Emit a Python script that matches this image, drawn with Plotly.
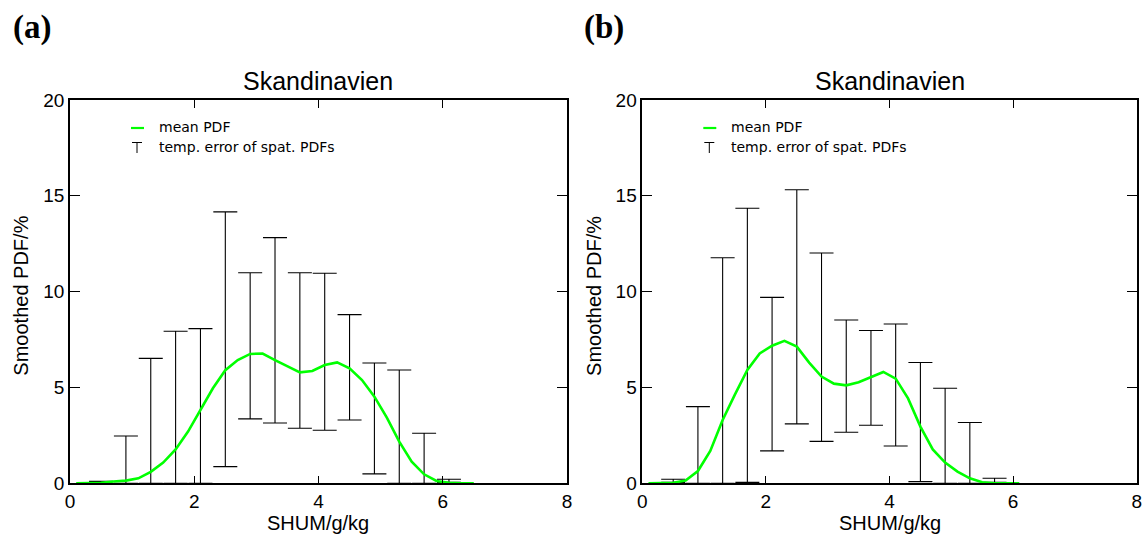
import plotly.graph_objects as go

# ---------------- data ----------------
curve_x_a = [0.1, 0.3, 0.5, 0.7, 0.9, 1.1, 1.3, 1.5, 1.7, 1.9, 2.1, 2.3, 2.5, 2.7, 2.9, 3.1,
             3.3, 3.5, 3.7, 3.9, 4.1, 4.3, 4.5, 4.7, 4.9, 5.1, 5.3, 5.5, 5.7, 5.9, 6.1, 6.3, 6.5]
curve_y_a = [0.0, 0.0, 0.03, 0.09, 0.14, 0.26, 0.6, 1.08, 1.77, 2.7, 3.83, 4.96, 5.9, 6.43, 6.75, 6.77,
             6.43, 6.09, 5.79, 5.86, 6.17, 6.31, 6.0, 5.39, 4.52, 3.43, 2.17, 1.13, 0.47, 0.12, 0.03, 0.0, 0.0]

err_x_a = [0.5, 0.9, 1.3, 1.7, 2.1, 2.5, 2.9, 3.3, 3.7, 4.1, 4.5, 4.9, 5.3, 5.7, 6.1]
err_hi_a = [0.1, 2.47, 6.52, 7.93, 8.07, 14.16, 10.99, 12.82, 10.99, 10.96, 8.8, 6.28, 5.91, 2.61, 0.21]
err_lo_a = [0.0, 0.0, 0.0, 0.0, 0.0, 0.87, 3.36, 3.15, 2.87, 2.77, 3.3, 0.49, 0.0, 0.0, 0.05]

curve_x_b = [0.1, 0.3, 0.5, 0.7, 0.9, 1.1, 1.3, 1.5, 1.7, 1.9, 2.1, 2.3, 2.5, 2.7, 2.9, 3.1,
             3.3, 3.5, 3.7, 3.9, 4.1, 4.3, 4.5, 4.7, 4.9, 5.1, 5.3, 5.5, 5.7, 5.9, 6.1]
curve_y_b = [0.0, 0.0, 0.03, 0.14, 0.64, 1.69, 3.3, 4.64, 5.91, 6.78, 7.18, 7.43, 7.13, 6.3, 5.57, 5.2,
             5.11, 5.27, 5.53, 5.81, 5.46, 4.43, 2.96, 1.77, 1.08, 0.61, 0.26, 0.05, 0.0, 0.0, 0.0]

err_x_b = [0.5, 0.9, 1.3, 1.7, 2.1, 2.5, 2.9, 3.3, 3.7, 4.1, 4.5, 4.9, 5.3, 5.7]
err_hi_b = [0.21, 4.0, 11.77, 14.35, 9.7, 15.32, 12.02, 8.52, 7.97, 8.31, 6.3, 4.96, 3.17, 0.26]
err_lo_b = [0.05, 0.0, 0.0, 0.05, 1.69, 3.1, 2.19, 2.66, 3.03, 1.95, 0.09, 0.0, 0.0, 0.05]

x_ticks = [0, 2, 4, 6, 8]
y_ticks = [0, 5, 10, 15, 20]
panel_labels = ["(a)", "(b)"]
title_text = "Skandinavien"
x_title = "SHUM/g/kg"
y_title = "Smoothed PDF/%"
legend_texts = ["mean PDF", "temp. error of spat. PDFs"]

# ---------------- figure ----------------
W, H = 1144, 535
GREEN = "#00ff00"
FONT = "Liberation Sans, Arial, sans-serif"

fig = go.Figure()

panels = [
    dict(xa="x", ya="y", ex=err_x_a, hi=err_hi_a, lo=err_lo_a, cx=curve_x_a, cy=curve_y_a),
    dict(xa="x2", ya="y2", ex=err_x_b, hi=err_hi_b, lo=err_lo_b, cx=curve_x_b, cy=curve_y_b),
]

for p in panels:
    mid = [(h + l) / 2 for h, l in zip(p["hi"], p["lo"])]
    half = [(h - l) / 2 for h, l in zip(p["hi"], p["lo"])]
    fig.add_trace(go.Scatter(
        x=p["ex"], y=mid, mode="markers",
        marker=dict(size=1, color="rgba(0,0,0,0)"),
        error_y=dict(type="data", array=half, symmetric=True, color="black",
                     thickness=1.1, width=12),
        xaxis=p["xa"], yaxis=p["ya"], showlegend=False, hoverinfo="skip"))
    fig.add_trace(go.Scatter(
        x=p["cx"], y=p["cy"], mode="lines",
        line=dict(color=GREEN, width=2.6),
        xaxis=p["xa"], yaxis=p["ya"], showlegend=False))

# plot-area geometry (pixels)
xa_px = (70, 567)
xb_px = (642.3, 1136.7)
y_top, y_bot = 100, 483.3

def px(xp):
    return xp / W

def py(yp):
    return 1 - yp / H

axis_common = dict(showline=True, linecolor="black", linewidth=1.5, mirror="ticks",
                   ticks="inside", tickcolor="black", tickwidth=1.3, showgrid=False,
                   zeroline=False, automargin=False,
                   tickfont=dict(family=FONT, size=19, color="black"))

fig.update_layout(
    template="none",
    width=W, height=H, margin=dict(l=0, r=0, t=0, b=0, autoexpand=False),
    paper_bgcolor="white", plot_bgcolor="white", showlegend=False,
    xaxis=dict(domain=[px(xa_px[0]), px(xa_px[1])], range=[0, 8], tickvals=x_ticks,
               ticklen=8, anchor="y", **axis_common),
    yaxis=dict(domain=[py(y_bot), py(y_top)], range=[0, 20], tickvals=y_ticks,
               ticklen=10, anchor="x", **axis_common),
    xaxis2=dict(domain=[px(xb_px[0]), px(xb_px[1])], range=[0, 8], tickvals=x_ticks,
                ticklen=8, anchor="y2", **axis_common),
    yaxis2=dict(domain=[py(y_bot), py(y_top)], range=[0, 20], tickvals=y_ticks,
                ticklen=10, anchor="x2", **axis_common),
)

annotations = []
shapes = []
for i, (x0, x1) in enumerate([xa_px, xb_px]):
    cx = (x0 + x1) / 2
    # panel label
    annotations.append(dict(text="<b>%s</b>" % panel_labels[i], xref="paper", yref="paper",
                            x=px(x0 - 38), y=py(27), xanchor="center", yanchor="middle",
                            showarrow=False,
                            font=dict(family="Liberation Serif, DejaVu Serif, serif", size=33, color="black")))
    # title
    annotations.append(dict(text=title_text, xref="paper", yref="paper",
                            x=px(cx), y=py(81), xanchor="center", yanchor="middle",
                            showarrow=False, font=dict(family=FONT, size=25, color="black")))
    # x title
    annotations.append(dict(text=x_title, xref="paper", yref="paper",
                            x=px(cx), y=py(523), xanchor="center", yanchor="middle",
                            showarrow=False, font=dict(family=FONT, size=20, color="black")))
    # y title
    annotations.append(dict(text=y_title, xref="paper", yref="paper",
                            x=px(x0 - 49), y=py((y_top + y_bot) / 2 + 4), xanchor="center",
                            yanchor="middle", textangle=-90,
                            showarrow=False, font=dict(family=FONT, size=20, color="black")))
    # legend
    lx = x0 + 61
    shapes.append(dict(type="line", xref="paper", yref="paper",
                       x0=px(lx), x1=px(lx + 13), y0=py(128), y1=py(128),
                       line=dict(color=GREEN, width=2.2)))
    shapes.append(dict(type="line", xref="paper", yref="paper",
                       x0=px(lx + 1), x1=px(lx + 11), y0=py(142.5), y1=py(142.5),
                       line=dict(color="black", width=1)))
    shapes.append(dict(type="line", xref="paper", yref="paper",
                       x0=px(lx + 6), x1=px(lx + 6), y0=py(142.5), y1=py(153),
                       line=dict(color="black", width=1)))
    annotations.append(dict(text=legend_texts[0], xref="paper", yref="paper",
                            x=px(lx + 26), y=py(127), xanchor="left", yanchor="middle",
                            showarrow=False, font=dict(family="DejaVu Sans, sans-serif", size=14, color="black")))
    annotations.append(dict(text=legend_texts[1], xref="paper", yref="paper",
                            x=px(lx + 26), y=py(147), xanchor="left", yanchor="middle",
                            showarrow=False, font=dict(family="DejaVu Sans, sans-serif", size=14, color="black")))

fig.update_layout(annotations=annotations, shapes=shapes)

fig.write_html("out.html")
